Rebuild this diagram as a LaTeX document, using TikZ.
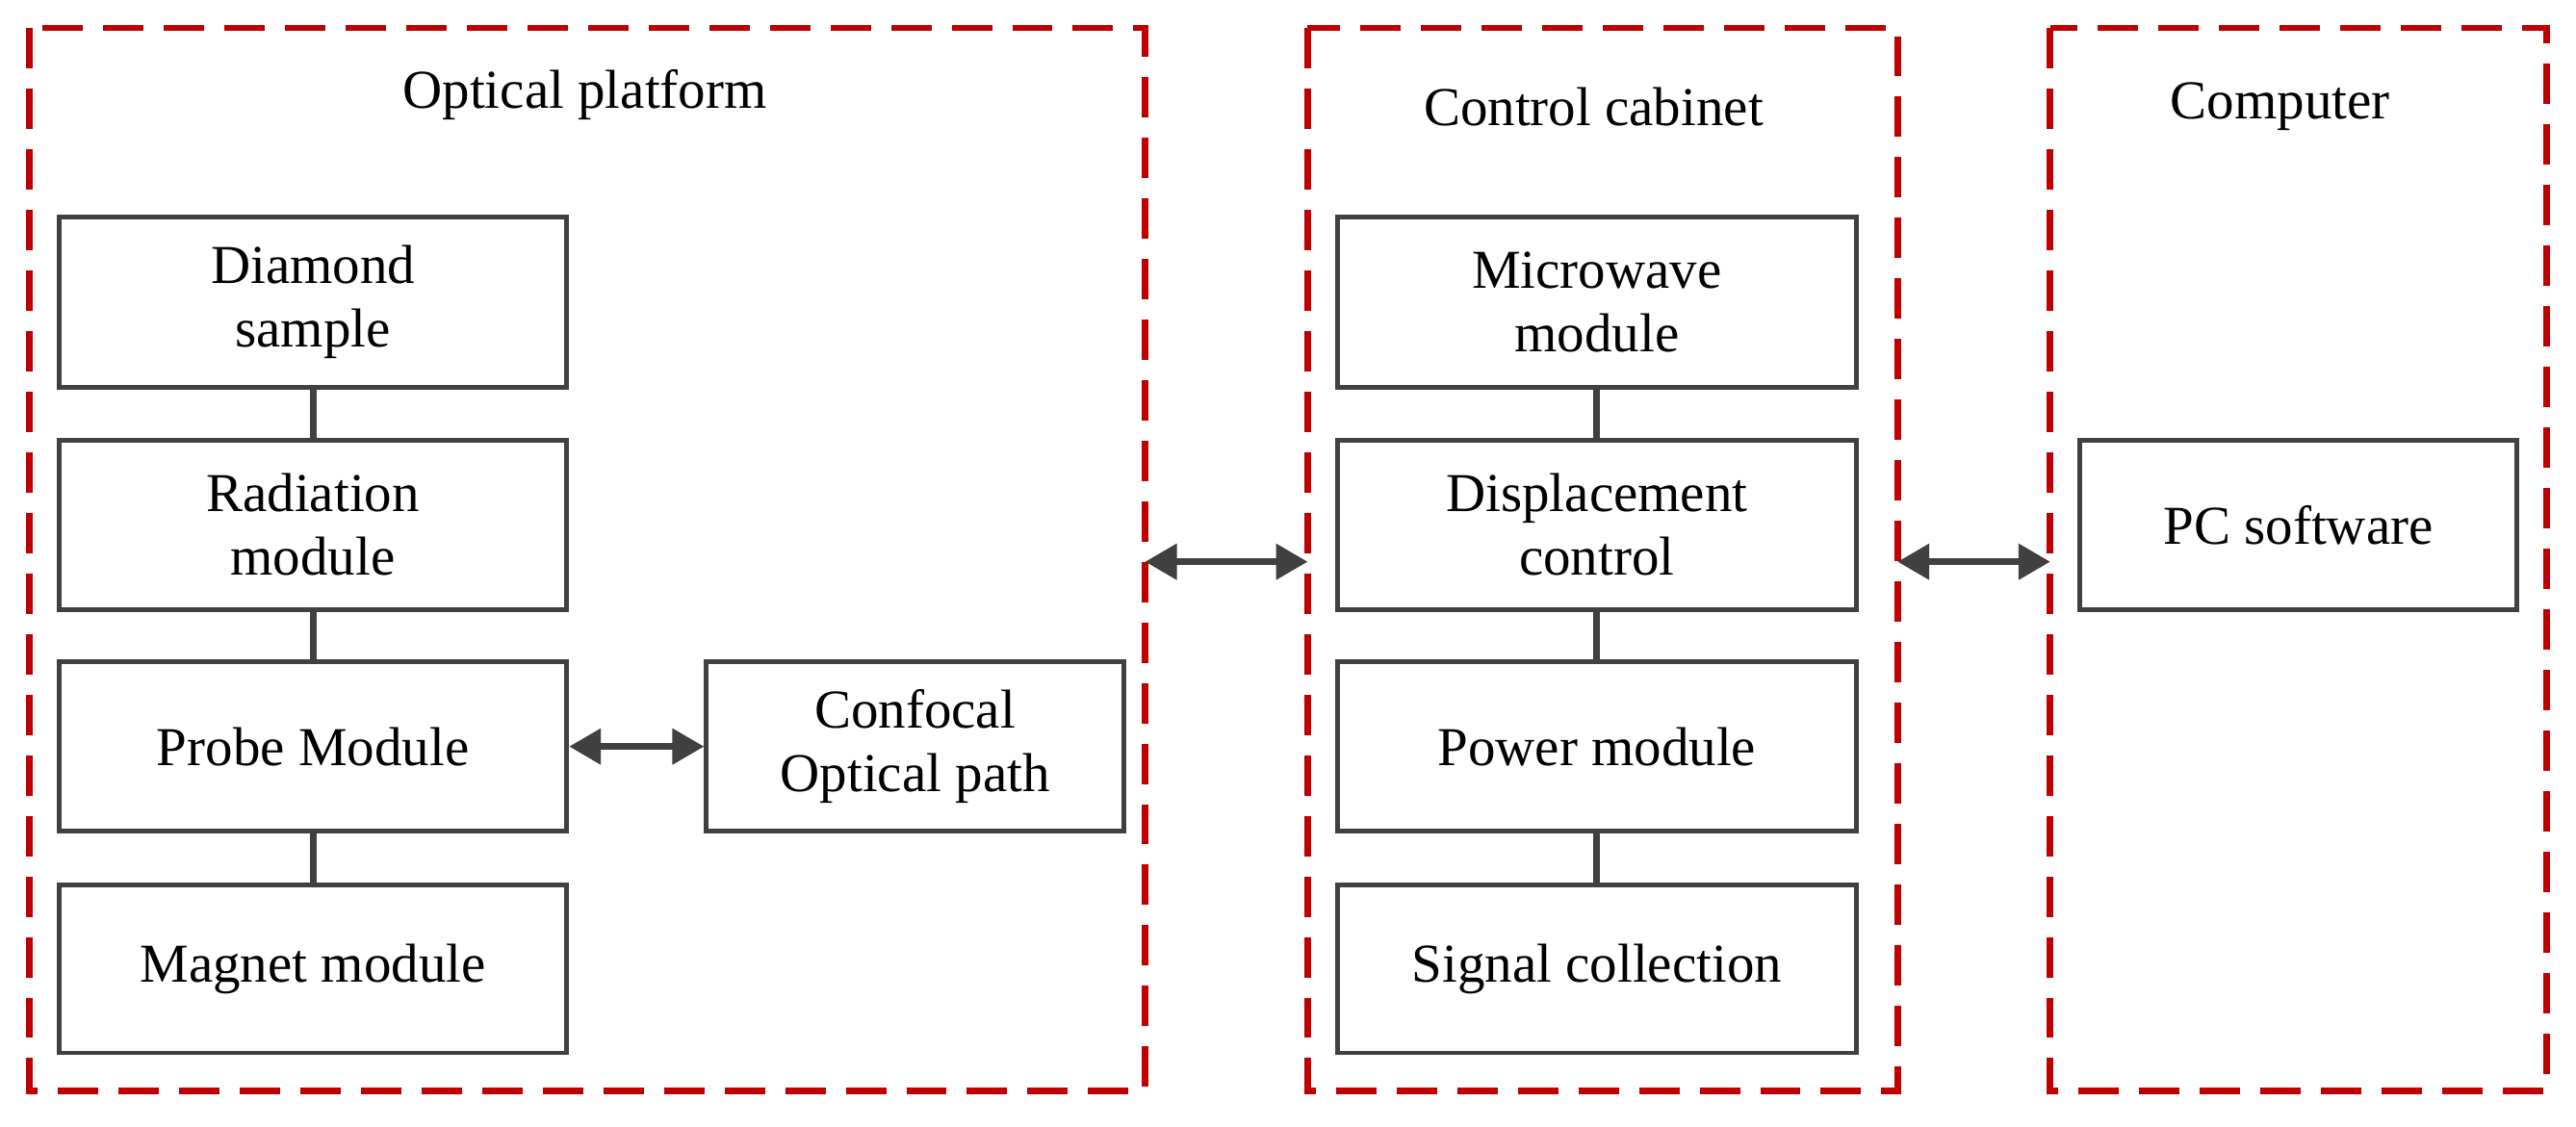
\documentclass[tikz,border=0pt]{standalone}
\usepackage{fontspec}
\setmainfont{Liberation Serif}
\usetikzlibrary{arrows.meta}
\definecolor{dred}{RGB}{192,0,0}
\definecolor{dgray}{RGB}{64,64,64}
\begin{document}
\begin{tikzpicture}[x=0.02cm,y=-0.02cm,
  grp/.style={draw=dred,line width=2.3pt,dash pattern=on 14pt off 7pt},
  box/.style={draw=dgray,line width=1.6pt,align=center,font=\fontsize{19}{22}\selectfont,inner sep=0pt},
  ttl/.style={font=\fontsize{19}{22}\selectfont},
  link/.style={draw=dgray,line width=2.4pt},
  dbl/.style={draw=dgray,line width=2.4pt,{Triangle[length=11pt,width=12pt]}-{Triangle[length=11pt,width=12pt]}}]
\useasboundingbox (0,0) rectangle (1568,686);
\draw[grp] (18,17) rectangle (697,664);
\draw[grp] (796,17) rectangle (1155,664);
\draw[grp] (1248,17) rectangle (1550,664);
\node[ttl] (t1) at (356,58) {Optical platform};
\node[ttl] (t2) at (970,65) {Control cabinet};
\node[ttl] (t3) at (1388,65) {Computer};
\newcommand\bx[6]{\node[box,minimum width={(#4-#2)*0.02cm},minimum height={(#5-#3)*0.02cm}] (#1) at ({(#2+#4)/2},{(#3+#5)/2}) {#6};}
\bx{a1}{36}{132}{345}{236}{Diamond\\sample}
\bx{a2}{36}{268}{345}{371}{Radiation\\module}
\bx{a3}{36}{403}{345}{506}{Probe Module}
\bx{a4}{36}{539}{345}{641}{Magnet module}
\bx{c}{430}{403}{684}{506}{Confocal\\Optical path}
\bx{b1}{814}{132}{1130}{236}{Microwave\\module}
\bx{b2}{814}{268}{1130}{371}{Displacement\\control}
\bx{b3}{814}{403}{1130}{506}{Power module}
\bx{b4}{814}{539}{1130}{641}{Signal collection}
\bx{pc}{1266}{268}{1532}{371}{PC software}
\draw[link] (a1) -- (a2); \draw[link] (a2) -- (a3); \draw[link] (a3) -- (a4);
\draw[link] (b1) -- (b2); \draw[link] (b2) -- (b3); \draw[link] (b3) -- (b4);
\draw[dbl] (a3) -- (c);
\coordinate (l1) at (697,342); \coordinate (r1) at (796,342);
\coordinate (l2) at (1155,342); \coordinate (r2) at (1248,342);
\draw[dbl] (l1) -- (r1);
\draw[dbl] (l2) -- (r2);
\end{tikzpicture}
\end{document}
